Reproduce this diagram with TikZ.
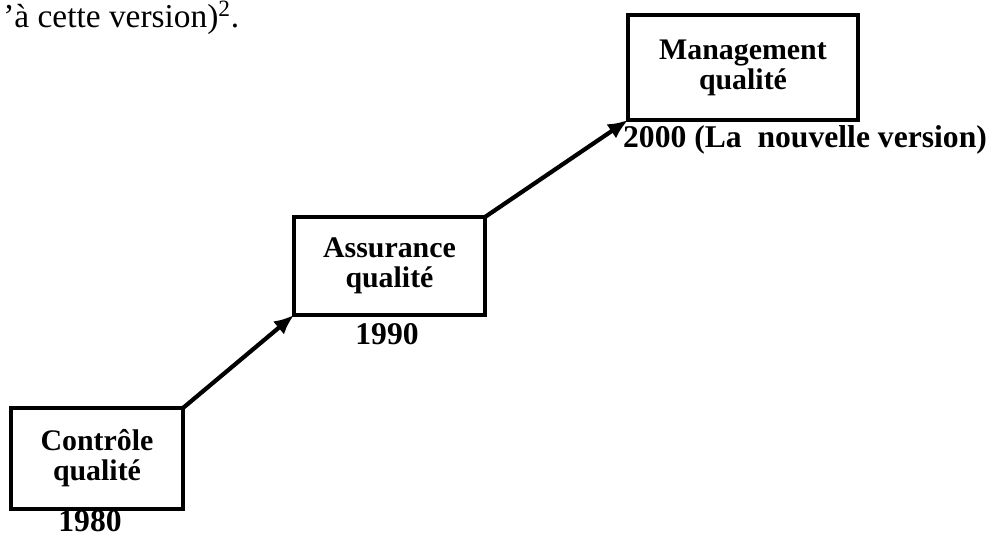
\documentclass[tikz,border=0pt]{standalone}
\usepackage{fontspec}
\setmainfont{Liberation Serif}
\usetikzlibrary{arrows.meta}

\begin{document}
\begin{tikzpicture}[
    stagebox/.style={draw, line width=2.2pt, inner sep=0pt, outer sep=0pt, align=center,
        font=\fontsize{17}{17}\selectfont\bfseries},
    yearlabel/.style={inner sep=0pt, anchor=base, font=\fontsize{18}{18}\selectfont\bfseries},
    stepline/.style={line width=2.4pt, -{Latex[length=4mm,width=3.4mm]}}
  ]
			%%%%% START %%%%%
			\useasboundingbox (0, 0) rectangle (19.86, 10.8);
			
			\node[anchor=base west, inner sep=0pt, font=\fontsize{19}{19}\selectfont] (intro) at (0.06, 10.24) {’à cette version)\textsuperscript{2}.};
			
			\node[stagebox, minimum width=3.44cm, minimum height=2.02cm] (controle) at (1.94, 1.63) {Contrôle\\qualité};
			\node[yearlabel] (an80) at (1.8, 0.16) {1980};
			
			\node[stagebox, minimum width=3.82cm, minimum height=1.96cm] (assurance) at (7.79, 5.48) {Assurance\\qualité};
			\node[yearlabel] (an90) at (7.74, 3.9) {1990};
			
			\node[stagebox, minimum width=4.6cm, minimum height=2.1cm] (management) at (14.86, 9.45) {Management\\qualité};
			\node[yearlabel] (an00) at (16.1, 7.84) {2000 (La\ \ nouvelle version)};
			
			\draw[stepline] (controle.north east) -- (assurance.south west);
			\draw[stepline] (assurance.north east) -- (management.south west);
			
			%%%%% END %%%%%
\end{tikzpicture}
\end{document}
